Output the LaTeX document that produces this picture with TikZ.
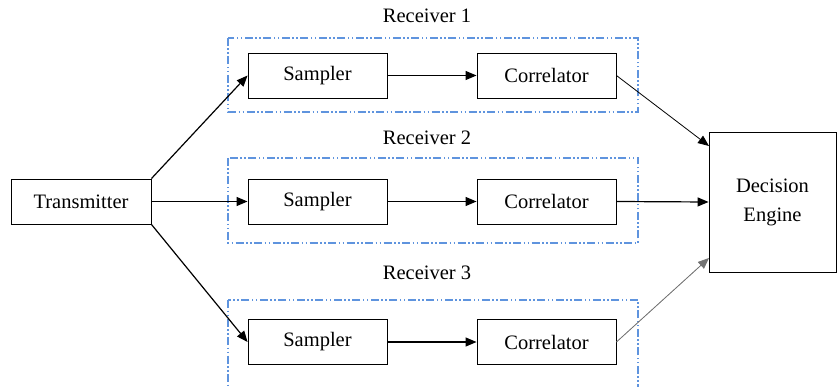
\documentclass[tikz,border=0pt]{standalone}
\usepackage{fontspec}
\setmainfont{Liberation Serif}
\usetikzlibrary{arrows.meta}
\definecolor{rxblue}{RGB}{95,148,222}
\tikzset{
  blk/.style={draw=black, line width=0.9pt, rectangle, minimum width=139pt, minimum height=45pt, inner sep=0pt, font=\fontsize{20.5}{29}\selectfont},
  rxbox/.style={draw=rxblue, line width=1.2pt, dash pattern=on 8pt off 2.5pt on 1.5pt off 2.5pt on 1.5pt off 2.5pt},
  lbl/.style={font=\fontsize{20.5}{24}\selectfont, inner sep=0pt},
  arr/.style={line width=1.2pt, -{Triangle[length=11pt,width=9pt]}},
  thinarr/.style={line width=0.8pt, -{Triangle[length=11pt,width=9pt]}},
}
\begin{document}
\begin{tikzpicture}[x=1pt,y=-1pt]
\useasboundingbox (0,0) rectangle (837,387);
\clip (0,0) rectangle (837,387);
% receiver frames
\draw[rxbox] (228,38) rectangle (638,112);
\draw[rxbox] (228,158) rectangle (638,243);
\draw[rxbox] (228,300) rectangle (638,400);
% labels
\node[lbl] (r1) at (427,16) {Receiver 1};
\node[lbl] (r2) at (427,138) {Receiver 2};
\node[lbl] (r3) at (427,273) {Receiver 3};
% blocks
\node[blk, minimum width=140pt] (tx) at (81,201.5) {Transmitter};
\node[blk] (s1) at (317.5,75.5) {Sampler};
\node[blk] (c1) at (546.5,75.5) {Correlator};
\node[blk] (s2) at (317.5,201.5) {Sampler};
\node[blk] (c2) at (546.5,201.5) {Correlator};
\node[blk] (s3) at (317.5,342) {Sampler};
\node[blk] (c3) at (546.5,342) {Correlator};
\node[blk, minimum width=127pt, minimum height=140pt, align=center] (de) at (772.5,202) {Decision\\Engine};
\coordinate (de1) at (709,146);
\coordinate (de3) at (709,258);
% connectors
\draw[arr] (tx.north east) -- (s1.west);
\draw[arr] (tx.east) -- (s2.west);
\draw[arr] (tx.south east) -- (s3.west);
\draw[arr] (s1) -- (c1);
\draw[arr] (s2) -- (c2);
\draw[arr] (s3) -- (c3);
\draw[thinarr] (c1.east) -- (de1);
\draw[arr] (c2.east) -- (de.west);
\draw[thinarr, draw=black!55, fill=black] (c3.east) -- (de3);
\end{tikzpicture}
\end{document}
